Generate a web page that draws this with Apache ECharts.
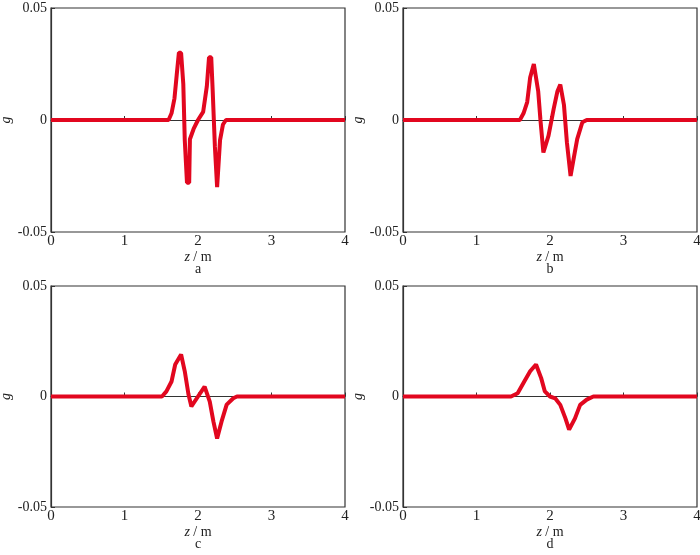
<!DOCTYPE html>
<html>
<head>
<meta charset="utf-8">
<script src="https://cdn.jsdelivr.net/npm/echarts@6/dist/echarts.min.js"></script>
<style>
  html, body { margin: 0; padding: 0; background: #fff; }
  #chart { width: 700px; height: 555px; }
</style>
</head>
<body>
<div id="chart"></div>
<script>
// panel a
const zA = [0, 1.0, 1.6, 1.64, 1.68, 1.71, 1.74, 1.77, 1.80, 1.82, 1.85, 1.88, 1.89, 1.94, 2.00, 2.07, 2.12, 2.15, 2.18, 2.20, 2.23, 2.26, 2.28, 2.30, 2.34, 2.38, 2.45, 3.0, 4.0]
const gA = [0, 0, 0, 0.003, 0.0097, 0.020, 0.030, 0.030, 0.016, -0.009, -0.028, -0.028, -0.0086, -0.004, 0, 0.0036, 0.015, 0.028, 0.028, 0.013, -0.012, -0.030, -0.030, -0.009, -0.002, 0, 0, 0, 0]
// panel b
const zB = [0, 1.0, 1.59, 1.64, 1.69, 1.73, 1.78, 1.84, 1.87, 1.91, 1.98, 2.05, 2.10, 2.14, 2.19, 2.23, 2.28, 2.32, 2.37, 2.44, 2.50, 3.0, 4.0]
const gB = [0, 0, 0, 0.003, 0.008, 0.019, 0.025, 0.0127, 0, -0.0145, -0.007, 0.005, 0.0127, 0.0158, 0.0067, -0.010, -0.025, -0.0176, -0.0085, -0.001, 0, 0, 0]
// panel c
const zC = [0, 1.0, 1.51, 1.57, 1.64, 1.69, 1.77, 1.82, 1.87, 1.91, 2.00, 2.09, 2.16, 2.21, 2.26, 2.32, 2.39, 2.48, 2.53, 3.0, 4.0]
const gC = [0, 0, 0, 0.0023, 0.0068, 0.0145, 0.019, 0.0114, 0.001, -0.0045, 0, 0.0045, -0.0023, -0.0114, -0.019, -0.0114, -0.0037, -0.0008, 0, 0, 0]
// panel d
const zD = [0, 1.0, 1.47, 1.56, 1.65, 1.73, 1.81, 1.88, 1.93, 2.00, 2.07, 2.14, 2.21, 2.26, 2.34, 2.41, 2.50, 2.59, 3.0, 4.0]
const gD = [0, 0, 0, 0.0015, 0.0068, 0.0114, 0.0145, 0.0083, 0.0023, 0, -0.0008, -0.0038, -0.0099, -0.015, -0.0099, -0.0038, -0.0014, 0, 0, 0]

const xTicks = [0, 1, 2, 3, 4]
const yTicks = [-0.05, 0, 0.05]
const panelNames = ['a', 'b', 'c', 'd']

const font = '"Liberation Serif", "Times New Roman", serif'
const red = '#e2071f'
const ink = '#222'

const grids = [
  { left: 51, top: 8, width: 294, height: 224 },
  { left: 403, top: 8, width: 294, height: 224 },
  { left: 51, top: 286, width: 294, height: 221 },
  { left: 403, top: 286, width: 294, height: 221 }
]
const seriesData = [[zA, gA], [zB, gB], [zC, gC], [zD, gD]]

const chart = echarts.init(document.getElementById('chart'))

const option = {
  animation: false,
  backgroundColor: '#fff',
  grid: grids.map(g => Object.assign({
    show: true, borderColor: '#333', borderWidth: 1.2,
    containLabel: false, outerBoundsMode: 'none'
  }, g)),
  xAxis: grids.map((g, i) => ({
    type: 'value',
    gridIndex: i,
    min: xTicks[0],
    max: xTicks[xTicks.length - 1],
    interval: 1,
    name: '{i|z} / m',
    nameLocation: 'middle',
    nameGap: 18,
    nameTextStyle: {
      fontFamily: font, fontSize: 14, color: ink,
      rich: { i: { fontFamily: font, fontSize: 14, fontStyle: 'italic', color: ink } }
    },
    axisLine: { lineStyle: { color: '#333', width: 1.2 } },
    axisTick: { inside: true, length: 4, lineStyle: { color: '#333' } },
    axisLabel: { margin: 2, fontFamily: font, fontSize: 15, color: ink },
    splitLine: { show: false }
  })),
  yAxis: grids.map((g, i) => ({
    type: 'value',
    gridIndex: i,
    min: yTicks[0],
    max: yTicks[yTicks.length - 1],
    interval: 0.05,
    name: 'g',
    nameLocation: 'middle',
    nameGap: 38,
    nameRotate: 90,
    nameTextStyle: { fontFamily: font, fontSize: 14, fontStyle: 'italic', color: ink },
    axisLine: { lineStyle: { color: '#333', width: 1.2 } },
    axisTick: { inside: true, length: 4, lineStyle: { color: '#333' } },
    axisLabel: {
      margin: 4, fontFamily: font, fontSize: 14, color: ink,
      formatter: v => {
        const r = Math.round(v * 100) / 100
        return r === 0 ? '0' : String(r)
      }
    },
    splitLine: { show: false }
  })),
  graphic: grids.map((g, i) => ({
    type: 'text',
    x: g.left + g.width / 2,
    y: g.top + g.height + 37,
    style: { text: panelNames[i], font: '14px ' + font, fill: ink, align: 'center', verticalAlign: 'middle' }
  })),
  series: seriesData.map(([zs, gs], i) => ({
    type: 'line',
    xAxisIndex: i,
    yAxisIndex: i,
    data: zs.map((z, k) => [z, gs[k]]),
    symbol: 'none',
    lineStyle: { color: red, width: 4 },
    z: 1
  }))
}

chart.setOption(option)
</script>
</body>
</html>
